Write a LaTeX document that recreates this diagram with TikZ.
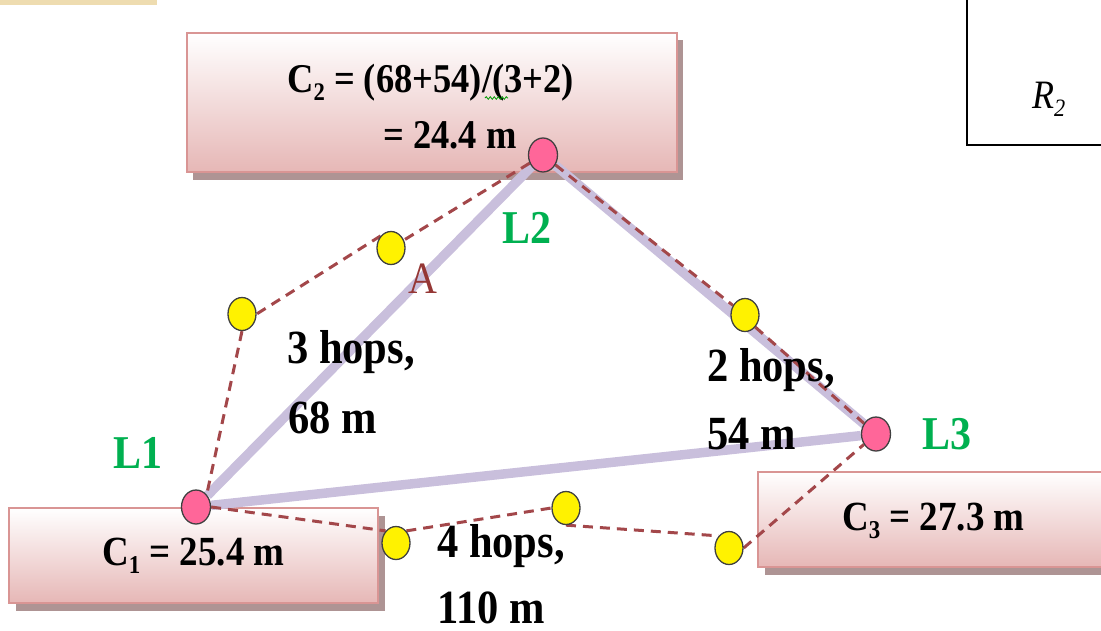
\documentclass[tikz,border=0pt]{standalone}
\usepackage{fontspec}
\setmainfont{Liberation Serif}
\usetikzlibrary{shapes.geometric,decorations.pathmorphing}
\definecolor{lpink}{HTML}{FF6699}
\definecolor{lav}{HTML}{C9BFDC}
\definecolor{hopc}{HTML}{A3474A}
\definecolor{lgreen}{HTML}{00B050}
\definecolor{abrown}{HTML}{953735}
\definecolor{boxbot}{HTML}{E6B7B6}
\definecolor{boxline}{HTML}{D99594}
\definecolor{shad}{HTML}{AE9494}
\definecolor{beige}{HTML}{EEDCB0}
\newcommand\sbs[1]{\raisebox{-0.2em}{\scalebox{0.62}{#1}}}
\newcommand\vs[1]{\scalebox{1}[1.12]{#1}}
\pgfdeclarelayer{boxes}
\pgfdeclarelayer{bg}
\pgfsetlayers{boxes,bg,main}
\begin{document}
\begin{tikzpicture}[x=1pt,y=-1pt,
  lnode/.style={ellipse, draw=black!75, line width=1.3pt, fill=lpink, minimum width=29pt, minimum height=34pt, inner sep=0pt},
  ynode/.style={ellipse, draw=black!75, line width=1.3pt, fill=yellow, minimum width=28pt, minimum height=33pt, inner sep=0pt},
  link/.style={draw=lav, line width=9.5pt},
  hop/.style={draw=hopc, line width=3pt, dash pattern=on 10pt off 7pt},
  cbox/.style={rectangle, draw=boxline, line width=2.5pt, top color=white, bottom color=boxbot, inner sep=0pt},
  shadowbox/.style={rectangle, fill=shad, inner sep=0pt},
  txt/.style={anchor=base west, inner sep=0pt},
  hoplbl/.style={txt, font=\bfseries\fontsize{42.5}{48}\selectfont},
  llbl/.style={txt, text=lgreen, font=\bfseries\fontsize{42}{48}\selectfont},
  ctxt/.style={txt, font=\bfseries\fontsize{37}{44}\selectfont}
]
\clip (0,0) rectangle (1101,630);
\useasboundingbox (0,0) rectangle (1101,630);

\begin{pgfonlayer}{boxes}
\fill[beige] (0,0) rectangle (157,5);
\draw[line width=2.6pt] (967,-10) rectangle (1120,145);
% shadows
\node[shadowbox, minimum width=490pt, minimum height=140pt] (c2s) at (438,110) {};
\node[shadowbox, minimum width=369pt, minimum height=95pt] (c1s) at (200,563) {};
\node[shadowbox, minimum width=350pt, minimum height=95pt] (c3s) at (940,527) {};
% boxes
\node[cbox, minimum width=490pt, minimum height=139pt] (c2box) at (432,102.5) {};
\node[cbox, minimum width=369pt, minimum height=95pt] (c1box) at (193.5,555.5) {};
\node[cbox, minimum width=350pt, minimum height=95pt] (c3box) at (933,519.5) {};
\end{pgfonlayer}

\node[txt, font=\itshape\fontsize{36}{40}\selectfont] (r2) at (1032,108) {\vs{R\sbs{2}}};

% box texts
\node[txt, font=\bfseries\fontsize{36.5}{42}\selectfont] (c2t1) at (287,92) {\vs{C\sbs{2} = (68+54)/(3+2)}};
\node[txt, font=\bfseries\fontsize{36.5}{42}\selectfont] (c2t2) at (383,148) {\vs{= 24.4 m}};
\draw[draw=green!60!black, line width=0.8pt, decorate, decoration={snake, amplitude=1.3pt, segment length=4pt}] (485,98) -- (508,98);
\node[ctxt] (c1t) at (102,565) {\vs{C\sbs{1} = 25.4 m}};
\node[ctxt] (c3t) at (842,530) {\vs{C\sbs{3} = 27.3 m}};

% nodes
\node[lnode] (l2) at (543,155) {};
\node[lnode] (l1) at (196,507) {};
\node[lnode] (l3) at (876,434) {};
\node[ynode] (y1) at (391,248) {};
\node[ynode] (y2) at (242,314) {};
\node[ynode] (y3) at (745,315) {};
\node[ynode] (y5) at (396,543) {};
\node[ynode] (y6) at (566,508) {};
\node[ynode] (y7) at (729,548) {};

\begin{pgfonlayer}{bg}
\draw[link] (l1) -- (l2);
\draw[link, shorten >=-20pt] (l2) -- (l3);
\draw[link] (l1) -- (l3);
\draw[hop] (l2) -- (y1);
\draw[hop] (y1.north west) -- (y2.east);
\draw[hop] (y2.south) -- (l1.north east);
\draw[hop] (l2) -- (y3);
\draw[hop] (y3.south east) -- (l3);
\draw[hop] (l1.east) -- (y5.north west);
\draw[hop] (y5.north east) -- (y6.west);
\draw[hop] (y6.south) -- (y7.north west);
\draw[hop] (y7.east) -- (l3);
\end{pgfonlayer}

% labels
\node[llbl] (lab1) at (113,468) {\vs{L1}};
\node[llbl] (lab2) at (502,243) {\vs{L2}};
\node[llbl] (lab3) at (922,449) {\vs{L3}};
\node[txt, text=abrown, font=\fontsize{40}{44}\selectfont] (la) at (408,293) {\vs{A}};
\node[hoplbl] (h1a) at (287,363) {\vs{3 hops,}};
\node[hoplbl] (h1b) at (288,433) {\vs{68 m}};
\node[hoplbl] (h2a) at (707,381) {\vs{2 hops,}};
\node[hoplbl] (h2b) at (707,449) {\vs{54 m}};
\node[hoplbl] (h3a) at (437,557) {\vs{4 hops,}};
\node[hoplbl] (h3b) at (437,623) {\vs{110 m}};
\end{tikzpicture}
\end{document}
